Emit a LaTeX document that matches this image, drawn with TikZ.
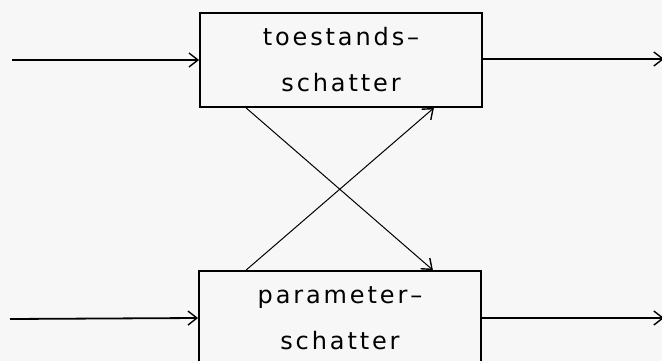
\documentclass[tikz,border=0pt]{standalone}
\usepackage{fontspec}
\setmainfont{DejaVu Sans}[LetterSpace=12]
\usepackage{tikz}
\usetikzlibrary{arrows.meta}

\begin{document}
\begin{tikzpicture}[x=1pt, y=-1pt, >={Straight Barb[length=9pt,width=14pt,line width=1.4pt]}, line width=1.8pt,
		box_style/.style={rectangle,draw=black,minimum width=282pt,minimum height=94pt,
			align=center,inner sep=0pt,font=\fontsize{24}{46}\selectfont},
		edge_style/.style={draw=black,->},
		cross_style/.style={draw=black,->,line width=1pt}]
		
		\clip (0,0) rectangle (662,361);
		\fill[white!97!black] (0,0) rectangle (662,361);
		
		\node[box_style] (n0) at (341,60)  {toestands–\\schatter};
		\node[box_style] (n1) at (340,318) {parameter–\\schatter};
		
		\coordinate (in0) at (12,60);
		\coordinate (in1) at (10,319);
		\coordinate (out0) at (664,59);
		\coordinate (out1) at (664,318);
		
		\draw[edge_style]  (in0) -- (n0.west);
		\draw[edge_style]  (in1) -- (n1.west);
		\draw[edge_style]  (n0.east |- out0) -- (out0);
		\draw[edge_style]  (n1.east |- out1) -- (out1);
		
		\draw[cross_style] ([xshift=47pt]n0.south west) -- ([xshift=-49pt]n1.north east);
		\draw[cross_style] ([xshift=48pt]n1.north west) -- ([xshift=-49pt]n0.south east);
\end{tikzpicture}
\end{document}
